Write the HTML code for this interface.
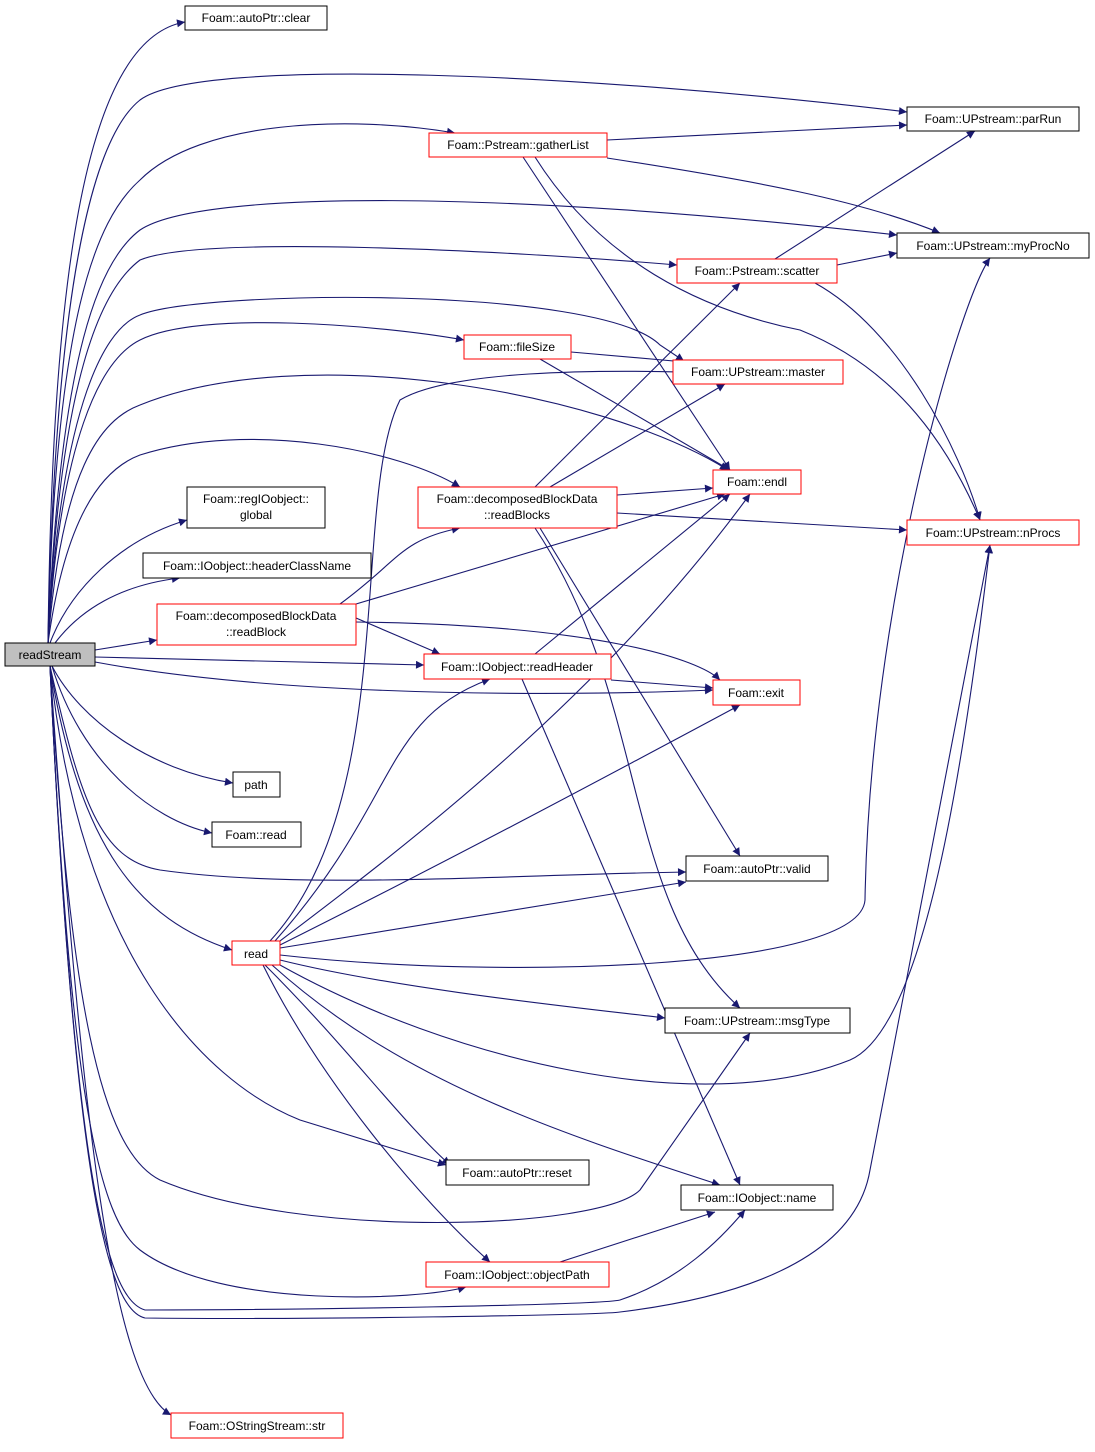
<!DOCTYPE html>
<html><head><meta charset="utf-8"><style>
html,body{margin:0;padding:0;background:#fff;}
svg text{font-family:"Liberation Sans",Helvetica,sans-serif;font-size:12px;fill:#000;}
</style></head><body>
<svg width="1095" height="1447" viewBox="0 0 1095 1447" xmlns="http://www.w3.org/2000/svg">
<defs><marker id="a" viewBox="0 0 10 10" refX="10" refY="5" markerWidth="10" markerHeight="8" markerUnits="userSpaceOnUse" orient="auto"><path d="M0,0 L10,5 L0,10 z" fill="#191970"/></marker></defs>
<g fill="none" stroke="#191970" stroke-width="1.1" marker-end="url(#a)">
<path d="M48,643 C52,300 80,40 185,22"/>
<path d="M48,643 C55,300 90,140 140,100 C200,55 600,75 907,112"/>
<path d="M48,643 C55,320 95,220 140,180 C200,120 350,115 455,133"/>
<path d="M48,643 C60,350 100,260 140,230 C200,190 500,190 897,235"/>
<path d="M48,643 C60,380 100,290 140,260 C200,235 500,250 677,265"/>
<path d="M48,643 C60,420 100,330 140,315 C200,290 600,285 660,345 L684,361"/>
<path d="M48,643 C60,440 100,360 140,340 C200,310 380,325 464,340"/>
<path d="M48,643 C62,470 100,420 140,405 C300,340 600,390 728,470"/>
<path d="M48,643 C65,520 100,470 140,455 C250,420 400,450 460,487"/>
<path d="M50,643 C70,590 120,540 187,520"/>
<path d="M55,643 C80,610 120,585 180,578"/>
<path d="M95,650 L157,640"/>
<path d="M95,657 L424,665"/>
<path d="M95,662 C300,700 600,695 713,690"/>
<path d="M52,666 C80,720 150,770 233,783"/>
<path d="M52,666 C80,760 150,820 212,833"/>
<path d="M50,666 C80,800 100,860 160,870 C300,890 500,875 686,872"/>
<path d="M50,666 C80,850 140,920 232,950"/>
<path d="M50,666 C80,950 200,1080 300,1120 L446,1165"/>
<path d="M50,666 C70,1000 100,1150 160,1180 C300,1240 600,1230 640,1190 L750,1033"/>
<path d="M50,666 C70,1100 100,1220 140,1250 C220,1310 420,1300 466,1287"/>
<path d="M50,666 C75,1200 110,1300 145,1310 C300,1310 600,1305 620,1300 C680,1280 720,1240 745,1210"/>
<path d="M50,666 C75,1200 110,1310 145,1318 C300,1320 600,1315 620,1312 C800,1290 860,1230 870,1170 L990,545"/>
<path d="M50,666 C80,1100 110,1380 171,1415"/>
<path d="M607,140 L907,125"/>
<path d="M607,158 C750,180 860,200 940,233"/>
<path d="M523,157 L730,470"/>
<path d="M535,157 C600,260 700,310 800,330 C900,370 950,450 980,520"/>
<path d="M775,259 L975,131"/>
<path d="M837,265 L897,253"/>
<path d="M815,283 C900,330 960,450 980,520"/>
<path d="M571,352 L685,362"/>
<path d="M540,359 L730,470"/>
<path d="M535,487 L740,283"/>
<path d="M550,487 L725,384"/>
<path d="M617,495 L713,488"/>
<path d="M617,513 L907,530"/>
<path d="M540,528 L740,856"/>
<path d="M535,528 C650,700 620,900 740,1008"/>
<path d="M340,604 C400,560 400,540 460,528"/>
<path d="M356,604 L725,494"/>
<path d="M356,618 L440,654"/>
<path d="M356,622 C600,625 700,660 720,680"/>
<path d="M535,654 L730,494"/>
<path d="M611,680 L713,688"/>
<path d="M522,679 L740,1185"/>
<path d="M270,941 C400,800 350,500 400,400 C450,370 600,370 683,372"/>
<path d="M275,941 C400,800 380,720 490,679"/>
<path d="M280,941 C400,850 600,700 750,494"/>
<path d="M280,945 C450,860 600,780 740,705"/>
<path d="M280,948 L686,882"/>
<path d="M280,955 C500,980 860,970 865,900 C870,600 960,300 990,258"/>
<path d="M280,960 C400,990 600,1010 665,1018"/>
<path d="M280,965 C450,1060 700,1120 850,1060 C920,1030 960,800 990,545"/>
<path d="M265,965 C350,1050 400,1120 450,1165"/>
<path d="M272,965 C400,1080 550,1130 720,1185"/>
<path d="M263,965 C320,1080 420,1200 490,1262"/>
<path d="M560,1262 L715,1212"/>
</g>
<g stroke-width="1">
<rect x="5" y="643" width="90" height="23" fill="#bfbfbf" stroke="#000"/>
<rect x="185" y="6" width="142" height="24" fill="#fff" stroke="#000"/>
<rect x="907" y="107" width="172" height="24" fill="#fff" stroke="#000"/>
<rect x="429" y="133" width="178" height="24" fill="#fff" stroke="#ff0000"/>
<rect x="897" y="233" width="192" height="25" fill="#fff" stroke="#000"/>
<rect x="677" y="259" width="160" height="24" fill="#fff" stroke="#ff0000"/>
<rect x="464" y="335" width="107" height="24" fill="#fff" stroke="#ff0000"/>
<rect x="673" y="360" width="170" height="24" fill="#fff" stroke="#ff0000"/>
<rect x="713" y="470" width="88" height="24" fill="#fff" stroke="#ff0000"/>
<rect x="418" y="487" width="199" height="41" fill="#fff" stroke="#ff0000"/>
<rect x="187" y="487" width="138" height="41" fill="#fff" stroke="#000"/>
<rect x="907" y="520" width="172" height="25" fill="#fff" stroke="#ff0000"/>
<rect x="143" y="553" width="228" height="25" fill="#fff" stroke="#000"/>
<rect x="157" y="604" width="199" height="41" fill="#fff" stroke="#ff0000"/>
<rect x="424" y="654" width="187" height="25" fill="#fff" stroke="#ff0000"/>
<rect x="713" y="680" width="87" height="25" fill="#fff" stroke="#ff0000"/>
<rect x="233" y="772" width="47" height="25" fill="#fff" stroke="#000"/>
<rect x="212" y="822" width="89" height="25" fill="#fff" stroke="#000"/>
<rect x="686" y="856" width="142" height="25" fill="#fff" stroke="#000"/>
<rect x="232" y="941" width="48" height="24" fill="#fff" stroke="#ff0000"/>
<rect x="665" y="1008" width="185" height="25" fill="#fff" stroke="#000"/>
<rect x="446" y="1160" width="143" height="25" fill="#fff" stroke="#000"/>
<rect x="681" y="1185" width="152" height="25" fill="#fff" stroke="#000"/>
<rect x="426" y="1262" width="183" height="25" fill="#fff" stroke="#ff0000"/>
<rect x="171" y="1413" width="172" height="25" fill="#fff" stroke="#ff0000"/>
</g>
<g text-anchor="middle">
<text x="50" y="659">readStream</text>
<text x="256" y="22">Foam::autoPtr::clear</text>
<text x="993" y="123">Foam::UPstream::parRun</text>
<text x="518" y="149">Foam::Pstream::gatherList</text>
<text x="993" y="250">Foam::UPstream::myProcNo</text>
<text x="757" y="275">Foam::Pstream::scatter</text>
<text x="517" y="351">Foam::fileSize</text>
<text x="758" y="376">Foam::UPstream::master</text>
<text x="757" y="486">Foam::endl</text>
<text x="517" y="503">Foam::decomposedBlockData</text>
<text x="517" y="519">::readBlocks</text>
<text x="256" y="503">Foam::regIOobject::</text>
<text x="256" y="519">global</text>
<text x="993" y="537">Foam::UPstream::nProcs</text>
<text x="257" y="570">Foam::IOobject::headerClassName</text>
<text x="256" y="620">Foam::decomposedBlockData</text>
<text x="256" y="636">::readBlock</text>
<text x="517" y="671">Foam::IOobject::readHeader</text>
<text x="756" y="697">Foam::exit</text>
<text x="256" y="789">path</text>
<text x="256" y="839">Foam::read</text>
<text x="757" y="873">Foam::autoPtr::valid</text>
<text x="256" y="958">read</text>
<text x="757" y="1025">Foam::UPstream::msgType</text>
<text x="517" y="1177">Foam::autoPtr::reset</text>
<text x="757" y="1202">Foam::IOobject::name</text>
<text x="517" y="1279">Foam::IOobject::objectPath</text>
<text x="257" y="1430">Foam::OStringStream::str</text>
</g>
</svg>
</body></html>
